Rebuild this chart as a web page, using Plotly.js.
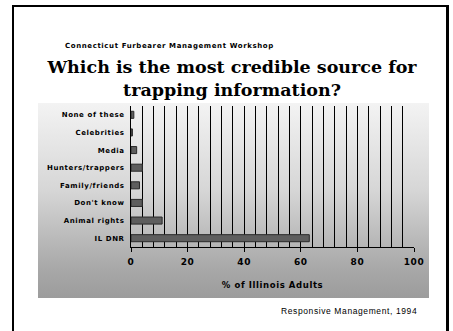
<!DOCTYPE html>
<html>
<head>
<meta charset="utf-8">
<script src="https://cdn.plot.ly/plotly-3.0.1.min.js"></script>
<style>
  html, body { margin:0; padding:0; background:#fff; }
  #wrap { position:relative; width:453px; height:331px; overflow:hidden; background:#fff; }
  #frame { position:absolute; left:12px; top:5px; width:432px; height:400px;
           border-left:2px solid #000; border-top:2px solid #000; border-right:3px solid #000; }
  #panel { position:absolute; left:38px; top:103px; width:391px; height:195px;
           background:linear-gradient(to bottom, #f3f3f3 0%, #d6d6d6 45%, #a8a8a8 85%, #9c9c9c 100%); }
  #chart { position:absolute; left:0; top:0; width:453px; height:331px; }
  .ytick text, .xtick text, .annotation-text, .g-xtitle text { letter-spacing:0.6px; }
</style>
</head>
<body>
<div id="wrap">
  <div id="frame"></div>
  <div id="panel"></div>
  <div id="chart"></div>
</div>
<script>
const categories = ["None of these", "Celebrities", "Media", "Hunters/trappers",
                    "Family/friends", "Don't know", "Animal rights", "IL DNR"];
const percentAdults = [1, 0.5, 2, 4, 3, 4, 11, 63];
const xTickValues = [0, 20, 40, 60, 80, 100];
const titleText = "Which is the most credible source for<br>trapping information?";
const subtitleText = "Connecticut Furbearer Management Workshop";
const sourceText = "Responsive Management, 1994";
const xAxisTitle = "% of Illinois Adults";

const sansBold = {family: "DejaVu Sans", size: 7, color: "#000", weight: 700};

const trace = {
  type: "bar",
  orientation: "h",
  x: percentAdults,
  y: categories,
  marker: {color: "#5e5e5e", line: {color: "#2a2a2a", width: 1}},
  hoverinfo: "skip"
};

const layout = {
  width: 453, height: 331,
  margin: {l: 131, r: 39, t: 106, b: 84},
  paper_bgcolor: "rgba(0,0,0,0)",
  plot_bgcolor: "rgba(0,0,0,0)",
  showlegend: false,
  bargap: 0.6,
  title: {
    text: titleText,
    font: {family: "DejaVu Serif", size: 17.5, color: "#000", weight: 700},
    xref: "paper", x: 0.357, xanchor: "center",
    yref: "container", y: 0.78, yanchor: "middle"
  },
  xaxis: {
    range: [0, 100],
    tickvals: xTickValues,
    ticks: "outside", ticklen: 4, tickcolor: "#000", tickwidth: 1,
    showline: true, linecolor: "#000", linewidth: 1,
    showgrid: true, gridcolor: "#000", gridwidth: 1,
    minor: {dtick: 4, tick0: 0, showgrid: true, gridcolor: "#000", gridwidth: 1, ticks: ""},
    zeroline: false,
    ticklabelstandoff: 2,
    tickfont: {family: "DejaVu Sans", size: 9, color: "#000", weight: 700},
    title: {text: xAxisTitle, font: {family: "DejaVu Sans", size: 8.5, color: "#000", weight: 700}, standoff: 16},
    fixedrange: true
  },
  yaxis: {
    type: "category",
    categoryorder: "array", categoryarray: categories,
    autorange: "reversed",
    showline: true, linecolor: "#000", linewidth: 1,
    showgrid: false, zeroline: false,
    ticks: "", ticklabelstandoff: 4,
    tickfont: sansBold,
    fixedrange: true
  },
  annotations: [
    {text: subtitleText, xref: "paper", yref: "paper", x: -0.240, y: 1.428,
     xanchor: "left", yanchor: "middle", showarrow: false,
     font: {family: "DejaVu Sans", size: 7, color: "#000", weight: 700}},
    {text: sourceText, xref: "paper", yref: "paper", x: 1.017, y: -0.452,
     xanchor: "right", yanchor: "middle", showarrow: false,
     font: {family: "Liberation Sans", size: 8.5, color: "#000"}}
  ]
};

Plotly.newPlot("chart", [trace], layout, {staticPlot: true, displayModeBar: false});
</script>
</body>
</html>
